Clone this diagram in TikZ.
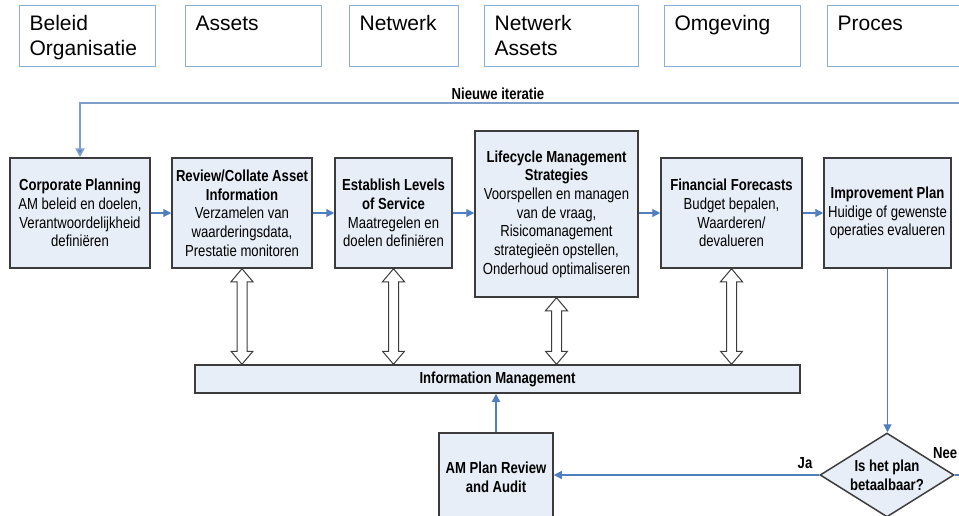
\documentclass[tikz,border=0pt]{standalone}
\usepackage{fontspec}
\setmainfont{Liberation Sans}
\newfontfamily\flowfont{Liberation Sans}[FakeStretch=0.82]
\usetikzlibrary{shapes.geometric,arrows.meta,calc}

\definecolor{boxfill}{HTML}{E8EEF7}
\definecolor{boxline}{HTML}{3C3C3C}
\definecolor{tagline}{HTML}{8AAED6}
\definecolor{flowblue}{HTML}{4F7FBF}
\definecolor{loopblue}{HTML}{7E9FCB}

% line struts for the two-line category tags
\newcommand{\tagfirst}{\rule{0pt}{19.5pt}}
\newcommand{\taglast}{\rule[-5.5pt]{0pt}{5.5pt}}

\tikzset{
  tagbox/.style={draw=tagline, line width=1.2pt, minimum height=61pt,
    inner xsep=10pt, inner ysep=0pt, text width=#1, align=left,
    anchor=north west, font=\fontsize{21}{25}\selectfont},
  stepbox/.style={draw=boxline, fill=boxfill, line width=1.5pt,
    align=center, inner sep=0pt, font=\flowfont\fontsize{16}{18.7}\selectfont},
  decision/.style={diamond, draw=boxline, fill=boxfill, line width=1.5pt,
    align=center, inner sep=0pt, aspect=1.6,
    font=\flowfont\bfseries\fontsize{16}{18.7}\selectfont},
  flowlabel/.style={font=\flowfont\bfseries\fontsize{16}{18.7}\selectfont, inner sep=0pt},
  flow/.style={draw=flowblue, line width=1.2pt, -{Triangle[length=8pt,width=8pt]}},
  plain flow/.style={draw=flowblue, line width=1.2pt},
  iteration/.style={draw=loopblue, line width=1.8pt,
    -{Triangle[length=9pt,width=9pt,fill=flowblue]}},
  dblar/.style={draw=boxline, fill=white, line width=1pt, line join=miter},
}

% hollow two-headed arrow between the lower edge of a step and the upper edge of the bar
\newcommand{\ioarrow}[2]{%
  \path[dblar] let \p1=(#1), \p2=(#2) in
    (\x1,\y1) -- (\x1+11pt,\y1-13pt) -- (\x1+5pt,\y1-13pt)
    -- (\x1+5pt,\y2+13pt) -- (\x1+11pt,\y2+13pt) -- (\x1,\y2)
    -- (\x1-11pt,\y2+13pt) -- (\x1-5pt,\y2+13pt)
    -- (\x1-5pt,\y1-13pt) -- (\x1-11pt,\y1-13pt) -- cycle;}

\begin{document}
\begin{tikzpicture}[x=1pt,y=-1pt]
\useasboundingbox (0,0) rectangle (959,515);

% category tags
\node[tagbox=116pt] (t1) at (19,5)  {\tagfirst Beleid\\\taglast Organisatie};
\node[tagbox=116pt] (t2) at (185,5) {\tagfirst Assets\\\taglast};
\node[tagbox=89pt]  (t3) at (349,5) {\tagfirst Netwerk\\\taglast};
\node[tagbox=134pt] (t4) at (484,5) {\tagfirst Netwerk\\\taglast Assets};
\node[tagbox=116pt] (t5) at (664,5) {\tagfirst Omgeving\\\taglast};
\node[tagbox=128pt] (t6) at (827,5) {\tagfirst Proces\\\taglast};

% process steps
\node[stepbox, minimum width=140pt, minimum height=110pt] (cp) at (80,213)
  {\textbf{Corporate Planning}\\AM beleid en doelen,\\Verantwoordelijkheid\\definiëren};
\node[stepbox, minimum width=140pt, minimum height=110pt] (rc) at (242,213)
  {\textbf{Review/Collate Asset}\\\textbf{Information}\\Verzamelen van\\waarderingsdata,\\Prestatie monitoren};
\node[stepbox, minimum width=117pt, minimum height=110pt] (ls) at (393.5,213)
  {\textbf{Establish Levels}\\\textbf{of Service}\\Maatregelen en\\doelen definiëren};
\node[stepbox, minimum width=163pt, minimum height=166pt] (lc) at (556.5,214)
  {\textbf{Lifecycle Management}\\\textbf{Strategies}\\Voorspellen en managen\\van de vraag,\\Risicomanagement\\strategieën opstellen,\\Onderhoud optimaliseren};
\node[stepbox, minimum width=141pt, minimum height=110pt] (ff) at (731.5,213)
  {\textbf{Financial Forecasts}\\Budget bepalen,\\Waarderen/\\devalueren};
\node[stepbox, minimum width=127pt, minimum height=110pt] (ip) at (887.5,213)
  {\textbf{Improvement Plan}\\Huidige of gewenste\\operaties evalueren};

\node[stepbox, minimum width=605pt, minimum height=28pt] (info) at (497.5,379)
  {\textbf{Information Management}};
\node[stepbox, minimum width=114pt, minimum height=88pt] (am) at (496,477)
  {\textbf{AM Plan Review}\\\textbf{and Audit}};
\node[decision, minimum width=134pt, minimum height=84pt] (dec) at (887,475)
  {Is het plan\\betaalbaar?};

% labels
\node[flowlabel] (iterlabel) at (498,94) {Nieuwe iteratie};
\node[flowlabel] (ja) at (805,463) {Ja};
\node[flowlabel, anchor=west] (nee) at (933,453) {Nee};

% main flow
\draw[flow] (cp.east) -- (rc.west);
\draw[flow] (rc.east) -- (ls.west);
\draw[flow] (ls.east) -- (ls.east -| lc.west);
\draw[flow] (lc.east |- ff.west) -- (ff.west);
\draw[flow] (ff.east) -- (ip.west);
\draw[flow] (ip.south) -- (ip.south |- dec.north);
\draw[flow] (dec.west) -- (dec.west -| am.east);
\draw[flow] (am.north) -- (am.north |- info.south);
\coordinate (neeend) at (970,475);
\draw[plain flow] (dec.east) -- (neeend);

% feedback loop
\coordinate (loopin) at (970,103);
\draw[iteration] (loopin) -| (cp.north);

% exchanges with information management
\ioarrow{rc.south}{rc.south |- info.north}
\ioarrow{ls.south}{ls.south |- info.north}
\ioarrow{lc.south}{lc.south |- info.north}
\ioarrow{ff.south}{ff.south |- info.north}
\end{tikzpicture}
\end{document}
